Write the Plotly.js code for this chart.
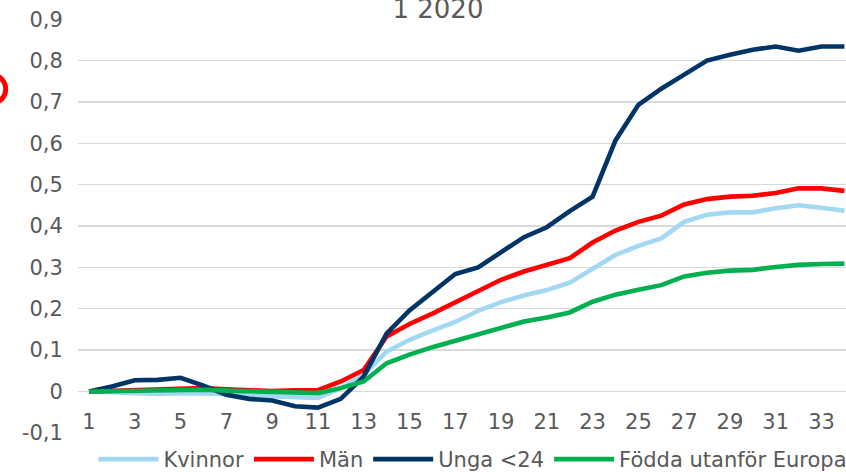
<!DOCTYPE html>
<html>
<head>
<meta charset="utf-8">
<script src="https://cdn.plot.ly/plotly-3.0.1.min.js"></script>
<style>html,body{margin:0;padding:0;background:#fff;}#chart{width:846px;height:472px;}</style>
</head>
<body>
<div id="chart"></div>
<script>
var weeks = [1,2,3,4,5,6,7,8,9,10,11,12,13,14,15,16,17,18,19,20,21,22,23,24,25,26,27,28,29,30,31,32,33,34];
var kvinnor = [0,-0.002,-0.002,-0.006,-0.004,-0.004,-0.006,-0.01,-0.012,-0.016,-0.016,0.008,0.04,0.096,0.125,0.147,0.168,0.195,0.216,0.232,0.245,0.263,0.298,0.33,0.352,0.37,0.41,0.427,0.433,0.433,0.443,0.45,0.444,0.437];
var man = [0,0.002,0.003,0.004,0.008,0.008,0.005,0.002,0.001,0.003,0.003,0.024,0.052,0.133,0.163,0.188,0.216,0.244,0.27,0.29,0.306,0.322,0.36,0.389,0.41,0.425,0.452,0.465,0.471,0.473,0.48,0.491,0.491,0.485];
var unga = [0,0.012,0.027,0.028,0.033,0.014,-0.008,-0.018,-0.022,-0.036,-0.039,-0.018,0.036,0.14,0.196,0.24,0.284,0.3,0.336,0.373,0.397,0.436,0.471,0.607,0.693,0.732,0.766,0.8,0.814,0.826,0.834,0.824,0.834,0.834];
var fodda = [0,0.001,0.002,0.002,0.004,0.004,0.002,0,-0.002,-0.004,-0.004,0.008,0.024,0.068,0.089,0.107,0.122,0.138,0.153,0.169,0.179,0.191,0.217,0.234,0.246,0.257,0.278,0.287,0.292,0.294,0.301,0.306,0.308,0.309];
var seriesNames = ['Kvinnor','Män','Unga <24','Födda utanför Europa'];
var xTickVals = [1,3,5,7,9,11,13,15,17,19,21,23,25,27,29,31,33];
var yTickVals = [-0.1,0,0.1,0.2,0.3,0.4,0.5,0.6,0.7,0.8,0.9];
var yTickText = ['-0,1','0','0,1','0,2','0,3','0,4','0,5','0,6','0,7','0,8','0,9'];
var titleText = '1 2020';

var colors = ['#A3D8F3','#FF0000','#023466','#00B050'];
var ys = [kvinnor, man, unga, fodda];
var data = ys.map(function(y,i){
  return {x: weeks, y: y, type:'scatter', mode:'lines', name: seriesNames[i],
    line:{color: colors[i], width:4.6}, hoverinfo:'skip'};
});
var font = {family:'DejaVu Sans, Verdana, sans-serif', color:'#595959', size:21};
var layout = {
  width:846, height:472,
  margin:{l:78, r:0, t:19, b:39},
  paper_bgcolor:'#fff', plot_bgcolor:'#fff',
  font: font,
  showlegend:true,
  title:{text:titleText, font:{family:font.family, color:'#595959', size:26}, xref:'container', yref:'container', x:0.5177, xanchor:'center', y:0.982, yanchor:'middle'},
  xaxis:{range:[0.52,34.07], tickvals:xTickVals, ticktext:xTickVals.map(String), showgrid:false, zeroline:false, showline:false,
    anchor:'free', position:0.0993, ticks:'outside', ticklen:11, tickcolor:'rgba(0,0,0,0)', tickfont:font, fixedrange:true},
  yaxis:{range:[-0.1005,0.9005], tickvals:yTickVals, ticktext:yTickText, showgrid:true, gridcolor:'#D9D9D9', gridwidth:1.3,
    zeroline:false, showline:false, ticks:'outside', ticklen:10, tickcolor:'rgba(0,0,0,0)', tickfont:font, fixedrange:true},
  legend:{orientation:'h', xref:'container', yref:'container', x:0.559, xanchor:'center', y:1-459.5/472, yanchor:'middle',
    font:font, itemwidth:60, bgcolor:'rgba(0,0,0,0)', tracegroupgap:0},
  shapes:[{type:'circle', xref:'paper', yref:'paper', x0:-0.1292, x1:-0.0941, y0:0.797, y1:0.8646, line:{color:'#FF0000', width:5}}]
};
Plotly.newPlot('chart', data, layout, {displayModeBar:false, staticPlot:true});
</script>
</body>
</html>
